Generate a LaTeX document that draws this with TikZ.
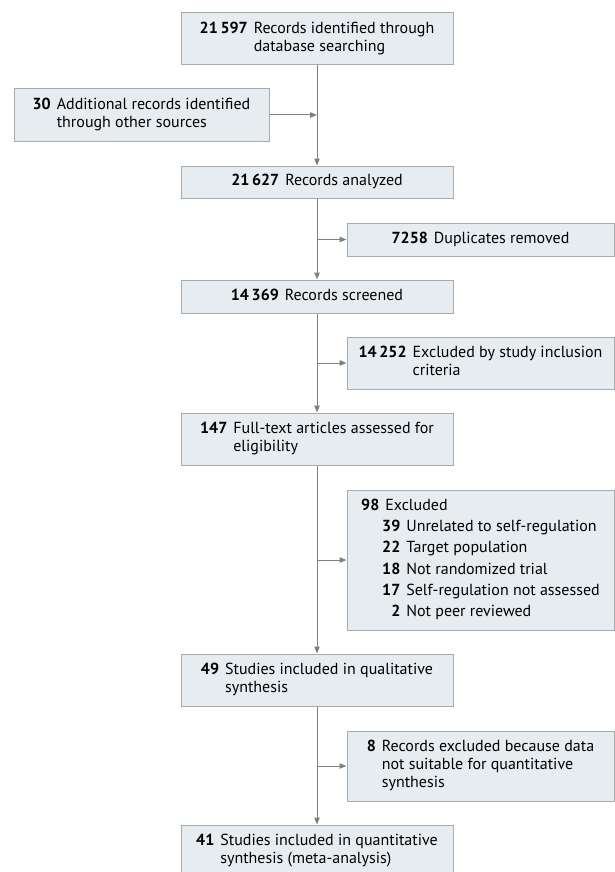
\documentclass[tikz,border=0pt]{standalone}
\usepackage{fontspec}
\setmainfont{PT Sans}
\usetikzlibrary{arrows.meta}
\definecolor{boxfill}{HTML}{E6ECF0}
\definecolor{boxline}{HTML}{A6ABAE}
\definecolor{flowline}{HTML}{808080}
\newcommand{\rec}[2]{\begin{tabular}{@{}r@{\hspace{6pt}}l@{}}\textbf{#1} & #2\end{tabular}}

\begin{document}
\begin{tikzpicture}[x=1pt,y=1pt,font=\fontsize{16}{18}\selectfont,
	main node/.style = {draw=boxline, fill=boxfill, line width=1pt, inner sep=0pt, minimum width=272pt},
	side node/.style = {main node, minimum width=267pt},
	flow/.style = {draw=flowline, line width=1pt, -{Triangle[length=7pt,width=5.5pt]}}]
	\useasboundingbox (0,0) rectangle (615,-872);
	\node[main node, minimum height=52pt] (1) at (317,-39) {\rec{21\,597}{Records identified through\\ & database searching}};
	\node[main node, minimum height=52pt, minimum width=255pt] (2) at (141.5,-115) {\rec{30}{Additional records identified\\ & through other sources}};
	\node[main node, minimum height=32pt] (3) at (317,-182) {\rec{21\,627}{Records analyzed}};
	\node[side node, minimum height=33pt] (4) at (480.5,-239.5) {\rec{7258}{Duplicates removed}};
	\node[main node, minimum height=33pt] (5) at (317,-296.5) {\rec{14\,369}{Records screened}};
	\node[side node, minimum height=52pt] (6) at (480.5,-363) {\rec{14\,252}{Excluded by study inclusion\\ & criteria}};
	\node[main node, minimum height=52pt] (7) at (317,-439) {\rec{147}{Full-text articles assessed for\\ & eligibility}};
	\node[side node, minimum height=140pt] (8) at (480.5,-560) {\begin{tabular}{@{\hspace{21pt}}r@{\hspace{6pt}}l@{}}
		\multicolumn{2}{@{}l@{}}{\textbf{98}\hspace{6pt}Excluded}\\[3.3pt]
		\textbf{39} & Unrelated to self-regulation\\[3.3pt]
		\textbf{22} & Target population\\[3.3pt]
		\textbf{18} & Not randomized trial\\[3.3pt]
		\textbf{17} & Self-regulation not assessed\\[3.3pt]
		\textbf{2} & Not peer reviewed
	\end{tabular}};
	\node[main node, minimum height=52pt] (9) at (317,-680) {\rec{49}{Studies included in qualitative\\ & synthesis}};
	\node[side node, minimum height=70pt] (10) at (480.5,-766) {\rec{8}{Records excluded because data\\ & not suitable for quantitative\\ & synthesis}};
	\node[main node, minimum height=52pt] (11) at (317,-851) {\rec{41}{Studies included in quantitative\\ & synthesis (meta-analysis)}};

	\draw[flow] (1) -- (3);
	\draw[flow] (2.east) -- (2.east -| 1.south);
	\draw[flow] (3) -- (5);
	\draw[flow] (3.south |- 4.west) -- (4.west);
	\draw[flow] (5) -- (7);
	\draw[flow] (5.south |- 6.west) -- (6.west);
	\draw[flow] (7) -- (9);
	\draw[flow] (7.south |- 8.west) -- (8.west);
	\draw[flow] (9) -- (11);
	\draw[flow] (9.south |- 10.west) -- (10.west);
\end{tikzpicture}
\end{document}
